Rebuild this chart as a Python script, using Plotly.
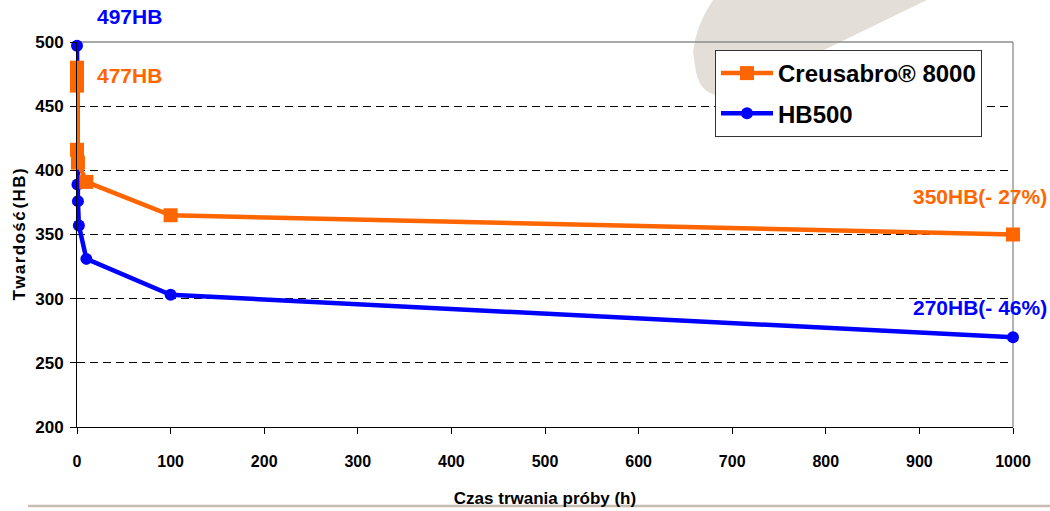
import plotly.graph_objects as go

# ---- data ----
series_names = ["Creusabro® 8000", "HB500"]
hours_creusabro = [0, 0, 0, 0, 1, 10, 100, 1000]
hb_creusabro = [480, 473, 466, 416, 406, 391, 365, 350]
hours_hb500 = [0, 0.5, 1, 2, 10, 100, 1000]
hb_hb500 = [497, 389, 376, 357, 331, 303, 270]
x_ticks = [0, 100, 200, 300, 400, 500, 600, 700, 800, 900, 1000]
y_ticks = [200, 250, 300, 350, 400, 450, 500]
labels = ["497HB", "477HB", "350HB(- 27%)", "270HB(- 46%)"]

ORANGE = "#FF6600"
BLUE = "#0000FF"
REG = "Liberation Sans, Arial, sans-serif"

W, H = 1050, 511
L, R, T, B = 77, 1013, 42, 427


def px(xp):
    return (xp - L) / (R - L)


def py(yp):
    return (B - yp) / (B - T)


fig = go.Figure()
fig.add_trace(go.Scatter(
    x=hours_hb500, y=hb_hb500, name=series_names[1], mode="lines+markers",
    line=dict(color=BLUE, width=4.5), marker=dict(symbol="circle", size=12, color=BLUE),
    cliponaxis=False, legendrank=2, legendgroup="b"))
fig.add_trace(go.Scatter(
    x=hours_creusabro, y=hb_creusabro, name=series_names[0], mode="lines+markers",
    line=dict(color=ORANGE, width=4.5), marker=dict(symbol="square", size=14, color=ORANGE),
    cliponaxis=False, legendrank=1, legendgroup="a"))

# background decoration
path = "M {} {} L {} {} L {} {} Q {} {} {} {} L {} {} Q {} {} {} {} Z".format(
    px(713), py(0), px(927), py(0), px(737), py(92),
    px(703), py(104), px(696), py(72), px(693), py(52),
    px(696), py(25), px(713), py(0))
shapes = [
    dict(type="path", path=path, xref="paper", yref="paper",
         fillcolor="#E3DFD8", line=dict(width=0), layer="below"),
    dict(type="line", xref="paper", yref="paper", x0=0, x1=1, y0=1, y1=1,
         line=dict(color="#8C8C8C", width=1.3), layer="between"),
    dict(type="line", xref="paper", yref="paper", x0=1, x1=1, y0=0, y1=1,
         line=dict(color="#8C8C8C", width=1.3), layer="between"),
    dict(type="line", xref="paper", yref="paper", x0=px(28), x1=px(1050),
         y0=py(506), y1=py(506), line=dict(color="#C6BDB0", width=2.5), layer="below"),
]

ann_font = dict(family=REG, size=21)
annotations = [
    dict(x=hours_hb500[0], y=hb_hb500[0], text="<b>%s</b>" % labels[0], showarrow=False,
         xanchor="left", yanchor="middle", xshift=18, yshift=29, font=dict(color=BLUE, **ann_font)),
    dict(x=hours_creusabro[0], y=477, text="<b>%s</b>" % labels[1], showarrow=False,
         xanchor="left", yanchor="middle", xshift=18, yshift=-4, font=dict(color=ORANGE, **ann_font)),
    dict(x=hours_creusabro[-1], y=hb_creusabro[-1], text="<b>%s</b>" % labels[2], showarrow=False,
         xanchor="right", yanchor="middle", xshift=36, yshift=38, font=dict(color=ORANGE, **ann_font)),
    dict(x=hours_hb500[-1], y=hb_hb500[-1], text="<b>%s</b>" % labels[3], showarrow=False,
         xanchor="right", yanchor="middle", xshift=36, yshift=30, font=dict(color=BLUE, **ann_font)),
]

ytitle = "\u200a".join(list("Twardość")) + "\u200a\u200a(\u200aH\u200aB\u200a)"

fig.update_layout(
    width=W, height=H,
    margin=dict(l=L, r=W - R, t=T, b=H - B, pad=0),
    paper_bgcolor="white", plot_bgcolor="rgba(0,0,0,0)",
    showlegend=True,
    legend=dict(x=px(715), y=py(50), xanchor="left", yanchor="top",
                bgcolor="white", bordercolor="#333333", borderwidth=1,
                font=dict(family=REG, size=24, color="black", weight="bold"),
                itemwidth=52, tracegroupgap=6, traceorder="grouped"),
    xaxis=dict(range=[0, 1000], tickvals=x_ticks, showgrid=False, zeroline=False,
               automargin=False,
               showline=True, linecolor="black", linewidth=1,
               ticks="outside", ticklen=6, tickcolor="black",
               tickfont=dict(family=REG, size=16, color="black", weight="bold"),
               ticklabelstandoff=14,
               title=dict(text="<b>Czas trwania próby (h)</b>", standoff=22,
                          font=dict(family=REG, size=17, color="black"))),
    yaxis=dict(range=[200, 500], tickvals=y_ticks, showgrid=True, gridcolor="black",
               gridwidth=1, griddash="8px,5px", zeroline=False,
               automargin=False,
               showline=True, linecolor="black", linewidth=1,
               ticks="outside", ticklen=6, tickcolor="black",
               tickfont=dict(family=REG, size=17, color="black", weight="bold"),
               ticklabelstandoff=3,
               title=dict(text="<b>%s</b>" % ytitle, standoff=5,
                          font=dict(family=REG, size=17, color="black"))),
    shapes=shapes, annotations=annotations,
)

fig.write_html("out.html")
